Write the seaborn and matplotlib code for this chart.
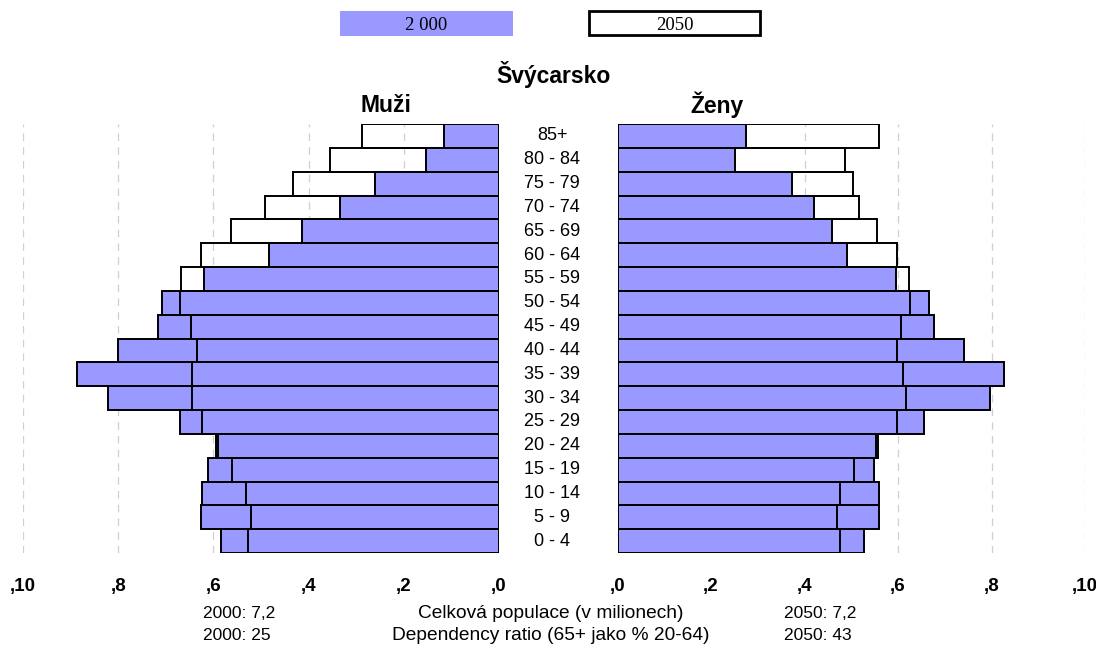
import matplotlib
matplotlib.use("Agg")
import matplotlib.pyplot as plt
import seaborn as sns
import pandas as pd
from matplotlib.patches import Rectangle
from matplotlib.transforms import blended_transform_factory

# Age groups, oldest at the top
ages = ["85+", "80 - 84", "75 - 79", "70 - 74", "65 - 69", "60 - 64",
        "55 - 59", "50 - 54", "45 - 49", "40 - 44", "35 - 39", "30 - 34",
        "25 - 29", "20 - 24", "15 - 19", "10 - 14", "5 - 9", "0 - 4"]

men_2000 = [0.115, 0.154, 0.261, 0.335, 0.413, 0.483, 0.620, 0.708, 0.717,
            0.800, 0.887, 0.822, 0.671, 0.594, 0.611, 0.623, 0.626, 0.585]
men_2050 = [0.288, 0.355, 0.433, 0.491, 0.563, 0.626, 0.669, 0.670, 0.647,
            0.635, 0.645, 0.645, 0.623, 0.590, 0.561, 0.532, 0.522, 0.528]

women_2000 = [0.274, 0.252, 0.373, 0.421, 0.458, 0.491, 0.596, 0.667, 0.676,
              0.741, 0.827, 0.797, 0.655, 0.552, 0.548, 0.560, 0.560, 0.528]
women_2050 = [0.560, 0.486, 0.503, 0.516, 0.556, 0.597, 0.623, 0.625, 0.606,
              0.597, 0.610, 0.617, 0.598, 0.557, 0.505, 0.477, 0.470, 0.476]

tick_values = [0.0, 0.2, 0.4, 0.6, 0.8, 1.0]
tick_labels = [",0", ",2", ",4", ",6", ",8", ",10"]

legend_labels = ["2 000", "2050"]
summary_rows = [
    ("2000: 7,2", "Celková populace (v milionech)", "2050: 7,2"),
    ("2000: 25", "Dependency ratio (65+ jako % 20-64)", "2050: 43"),
]

BLUE = "#9999ff"

sns.set_theme(style="white")
plt.rcParams["font.family"] = ["Liberation Sans", "DejaVu Sans"]
plt.rcParams["text.color"] = "black"
plt.rcParams["xtick.color"] = "black"
plt.rcParams["ytick.color"] = "black"

W, H = 1096, 646
fig = plt.figure(figsize=(W / 100, H / 100), dpi=100)


def px_axes(x0, x1, y0, y1):
    return fig.add_axes([x0 / W, 1 - y1 / H, (x1 - x0) / W, (y1 - y0) / H])


ax_m = px_axes(23, 499, 124, 553)
ax_f = px_axes(617.5, 1085, 124, 553)


def draw_panel(ax, v2000, v2050):
    df = pd.DataFrame({"age": ages, "y2000": v2000, "y2050": v2050})
    ax.set_axisbelow(True)
    ax.xaxis.grid(True, linestyle=(0, (6, 5)), color="#cfcfcf", linewidth=0.9)
    sns.barplot(data=df, x="y2000", y="age", order=ages, orient="h",
                color=BLUE, saturation=1, edgecolor="black", linewidth=1.4,
                width=1.0, ax=ax)
    sns.barplot(data=df, x="y2050", y="age", order=ages, orient="h",
                fill=False, color="black", linewidth=1.4, width=1.0, ax=ax)
    ax.set_ylim(len(ages) - 0.5, -0.5)
    ax.set_yticks([])
    ax.set_xlabel("")
    ax.set_ylabel("")
    ax.set_xticks(tick_values)
    ax.set_xticklabels(tick_labels, fontweight="bold", fontsize=13.5)
    ax.tick_params(axis="x", length=0, pad=18, colors="black")
    for s in ax.spines.values():
        s.set_visible(False)


draw_panel(ax_m, men_2000, men_2050)
ax_m.set_xlim(1.0, 0.0)
draw_panel(ax_f, women_2000, women_2050)
ax_f.set_xlim(0.0, 1.0)

# Age group labels between the two halves
trans = blended_transform_factory(fig.transFigure, ax_m.transData)
for i, a in enumerate(ages):
    ax_m.text(552 / W, i, a, transform=trans, ha="center", va="center",
              fontsize=13, clip_on=False)

# Titles
fig.text(553 / W, 1 - 75 / H, "Švýcarsko", ha="center", va="center",
         fontsize=16.5, fontweight="bold")
fig.text(386 / W, 1 - 105 / H, "Muži", ha="center", va="center",
         fontsize=16.5, fontweight="bold")
fig.text(717 / W, 1 - 105 / H, "Ženy", ha="center", va="center",
         fontsize=16.5, fontweight="bold")

# Legend boxes
fig.patches.append(Rectangle((340 / W, 1 - 36 / H), 173 / W, 25 / H,
                             transform=fig.transFigure, facecolor=BLUE,
                             edgecolor="none"))
fig.patches.append(Rectangle((589 / W, 1 - 35 / H), 171 / W, 24 / H,
                             transform=fig.transFigure, facecolor="white",
                             edgecolor="black", linewidth=2))
fig.text(426 / W, 1 - 25.5 / H, legend_labels[0], ha="center", va="center",
         fontsize=13.5, family=["Liberation Serif", "DejaVu Serif"])
fig.text(675 / W, 1 - 25.5 / H, legend_labels[1], ha="center", va="center",
         fontsize=13.5, family=["Liberation Serif", "DejaVu Serif"])

# Summary lines below the axes
for (left, mid, right), y in zip(summary_rows, [613, 636]):
    fig.text(203 / W, 1 - y / H, left, ha="left", va="center", fontsize=12.5)
    fig.text(551 / W, 1 - y / H, mid, ha="center", va="center", fontsize=13.8)
    fig.text(784 / W, 1 - y / H, right, ha="left", va="center", fontsize=12.5)

fig.savefig("out.png", dpi=100)
